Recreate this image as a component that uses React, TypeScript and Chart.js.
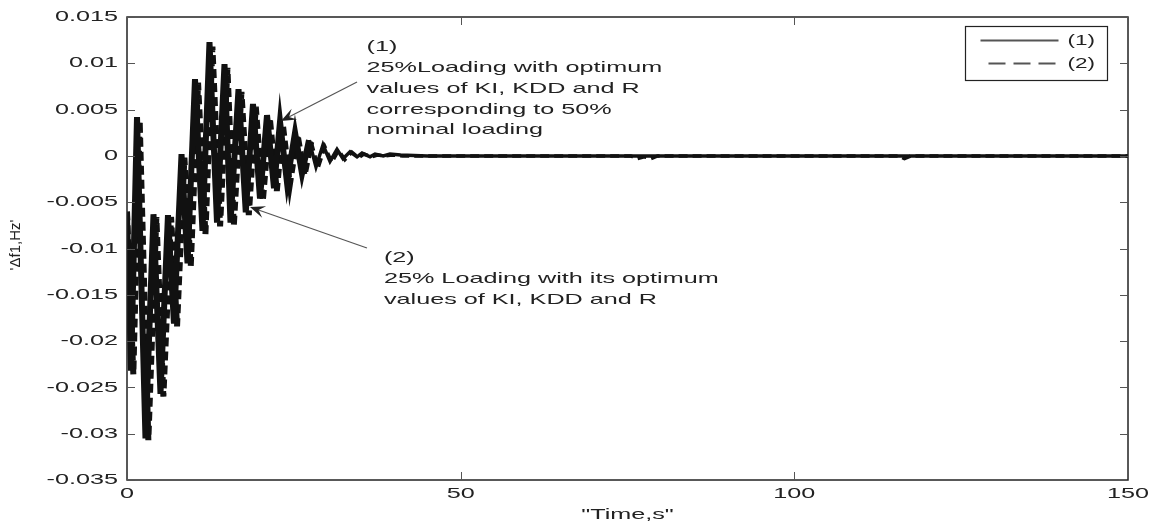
import React, { useEffect, useRef } from 'react';
import { Chart, registerables } from 'chart.js';

Chart.register(...registerables);

// ---- data ----
const time1 = [0, 0.6, 1.5, 2.77, 3.97, 5.02, 6.14, 7.04, 8.17, 9.07, 10.19, 11.31, 12.36, 13.49, 14.61, 15.51, 16.71, 17.8, 18.88, 19.93, 20.98, 22.03, 22.93, 23.98, 25.18, 26.22, 27.27, 28.32, 29.37, 30.42, 31.47, 32.37, 33.42, 34.47, 35.22, 36.42, 37.17, 38.4, 39.4, 41, 45, 150];
const values1 = [-0.0064, -0.0232, 0.0042, -0.0305, -0.0063, -0.0257, -0.0064, -0.0181, 0.0002, -0.0116, 0.0083, -0.0081, 0.0123, -0.0072, 0.0099, -0.0072, 0.0072, -0.0061, 0.0056, -0.0046, 0.0044, -0.0035, 0.0037, -0.0029, 0.0025, -0.0019, 0.0017, -0.0012, 0.0012, -0.0006, 0.0007, -0.0003, 0.00045, -0.0001, 0.0003, -0.0001, 0.0002, 0, 0.0002, 0.0001, 0, 0];

const time2 = [0, 0.95, 1.9, 3.2, 4.4, 5.45, 6.6, 7.5, 8.6, 9.55, 10.65, 11.75, 12.8, 13.95, 15.05, 16.0, 17.15, 18.25, 19.3, 20.35, 21.4, 22.45, 23.35, 24.4, 25.55, 26.6, 27.6, 28.65, 29.65, 30.7, 31.7, 32.65, 33.7, 34.7, 35.5, 36.7, 37.5, 38.7, 39.7, 41.3, 45, 75.5, 76.5, 77.5, 78.5, 79.5, 115.5, 116.5, 117.5, 150];
const values2 = [-0.006, -0.0236, 0.0038, -0.0307, -0.0066, -0.026, -0.0066, -0.0184, -0.0002, -0.012, 0.0079, -0.0085, 0.0118, -0.0076, 0.0095, -0.0076, 0.0069, -0.0064, 0.0053, -0.0049, 0.0041, -0.0038, 0.0034, -0.0031, 0.0023, -0.0021, 0.0015, -0.0013, 0.001, -0.0007, 0.0006, -0.0004, 0.0004, -0.0002, 0.0002, -0.0001, 0.0001, 0, 0.0001, 0, 0, 0, -0.0003, -0.0001, -0.0003, 0, 0, -0.0003, 0, 0];

const seriesLabels = ['(1)', '(2)'];

const xTickValues = [0, 50, 100, 150];
const xTickLabels = ['0', '50', '100', '150'];
const yTickValues = [-0.035, -0.03, -0.025, -0.02, -0.015, -0.01, -0.005, 0, 0.005, 0.01, 0.015];
const yTickLabels = ['-0.035', '-0.03', '-0.025', '-0.02', '-0.015', '-0.01', '-0.005', '0', '0.005', '0.01', '0.015'];

const xTitle = '"Time,s"';
const yTitle = "'\u0394f1,Hz'";

const note1Lines = ['(1)', '25%Loading with optimum', 'values of KI, KDD and R', 'corresponding to 50%', 'nominal loading'];
const note1Anchor = [35.9, 0.01176]; // time, value of first line (left edge)
const arrow1 = [34.47, 0.00798, 23.08, 0.00377]; // tail t,v -> tip t,v

const note2Lines = ['(2)', '25% Loading with its optimum', 'values of KI, KDD and R'];
const note2Anchor = [38.5, -0.01103];
const arrow2 = [35.96, -0.00995, 18.43, -0.00552];

// ---- drawing helpers ----
const FONT = '15px "Liberation Sans", Arial, sans-serif';
const SX = 1.68;
const TEXT_COLOR = '#222';

function stretchedText(ctx: CanvasRenderingContext2D, text: string, x: number, y: number, align: 'left' | 'right' | 'center', font = FONT, sx = SX) {
  ctx.save();
  ctx.font = font;
  ctx.fillStyle = TEXT_COLOR;
  ctx.textBaseline = 'middle';
  ctx.textAlign = 'left';
  const w = ctx.measureText(text).width * sx;
  let left = x;
  if (align === 'right') left = x - w;
  else if (align === 'center') left = x - w / 2;
  ctx.translate(left, y);
  ctx.scale(sx, 1);
  ctx.fillText(text, 0, 0);
  ctx.restore();
}

function drawArrow(ctx: CanvasRenderingContext2D, x0: number, y0: number, x1: number, y1: number) {
  const dx = x1 - x0;
  const dy = y1 - y0;
  const len = Math.hypot(dx, dy);
  const ux = dx / len;
  const uy = dy / len;
  const px = -uy;
  const py = ux;
  const head = 15;
  const half = 6;
  ctx.save();
  ctx.strokeStyle = '#555';
  ctx.lineWidth = 1.2;
  ctx.beginPath();
  ctx.moveTo(x0, y0);
  ctx.lineTo(x1 - ux * 6, y1 - uy * 6);
  ctx.stroke();
  ctx.fillStyle = '#222';
  ctx.beginPath();
  ctx.moveTo(x1, y1);
  ctx.lineTo(x1 - ux * head + px * half, y1 - uy * head + py * half);
  ctx.lineTo(x1 - ux * head * 0.6, y1 - uy * head * 0.6);
  ctx.lineTo(x1 - ux * head - px * half, y1 - uy * head - py * half);
  ctx.closePath();
  ctx.fill();
  ctx.restore();
}

const matlabAxes = {
  id: 'matlabAxes',
  afterDatasetsDraw(chart: any) {
    const { ctx, chartArea: a, scales } = chart;
    const xs = scales.x;
    const ys = scales.y;
    ctx.save();

    // frame
    ctx.strokeStyle = '#222';
    ctx.lineWidth = 1.5;
    ctx.strokeRect(Math.round(a.left), Math.round(a.top), Math.round(a.right - a.left), Math.round(a.bottom - a.top));

    // inward ticks
    ctx.strokeStyle = '#555';
    ctx.lineWidth = 1;
    const tl = 8;
    ys.ticks.forEach((t: any) => {
      const p = Math.round(ys.getPixelForValue(t.value)) + 0.5;
      ctx.beginPath();
      ctx.moveTo(a.left, p);
      ctx.lineTo(a.left + tl, p);
      ctx.moveTo(a.right, p);
      ctx.lineTo(a.right - tl, p);
      ctx.stroke();
    });
    xs.ticks.forEach((t: any) => {
      const p = Math.round(xs.getPixelForValue(t.value)) + 0.5;
      ctx.beginPath();
      ctx.moveTo(p, a.bottom);
      ctx.lineTo(p, a.bottom - tl);
      ctx.moveTo(p, a.top);
      ctx.lineTo(p, a.top + tl);
      ctx.stroke();
    });

    // tick labels
    ys.ticks.forEach((t: any, i: number) => {
      const p = ys.getPixelForValue(t.value);
      stretchedText(ctx, yTickLabels[i], a.left - 9, p, 'right');
    });
    xs.ticks.forEach((t: any, i: number) => {
      const p = xs.getPixelForValue(t.value);
      stretchedText(ctx, xTickLabels[i], p, a.bottom + 14, 'center');
    });

    // axis titles
    stretchedText(ctx, xTitle, (a.left + a.right) / 2, a.bottom + 35, 'center');
    ctx.save();
    ctx.translate(16, 245);
    ctx.rotate(-Math.PI / 2);
    ctx.font = '15px "Liberation Sans", Arial, sans-serif';
    ctx.fillStyle = TEXT_COLOR;
    ctx.textAlign = 'center';
    ctx.textBaseline = 'middle';
    ctx.fillText(yTitle, 0, 0);
    ctx.restore();

    // annotations
    const lineGap = 20.8;
    const n1x = xs.getPixelForValue(note1Anchor[0]);
    const n1y = ys.getPixelForValue(note1Anchor[1]);
    note1Lines.forEach((s, i) => stretchedText(ctx, s, n1x, n1y + i * lineGap, 'left'));
    const n2x = xs.getPixelForValue(note2Anchor[0]);
    const n2y = ys.getPixelForValue(note2Anchor[1]);
    note2Lines.forEach((s, i) => stretchedText(ctx, s, n2x, n2y + i * lineGap, 'left'));

    drawArrow(ctx, xs.getPixelForValue(arrow1[0]), ys.getPixelForValue(arrow1[1]), xs.getPixelForValue(arrow1[2]), ys.getPixelForValue(arrow1[3]));
    drawArrow(ctx, xs.getPixelForValue(arrow2[0]), ys.getPixelForValue(arrow2[1]), xs.getPixelForValue(arrow2[2]), ys.getPixelForValue(arrow2[3]));

    // legend box
    const bx = Math.round(a.right - 163) + 0.5;
    const by = Math.round(a.top + 9) + 0.5;
    const bw = 142;
    const bh = 54;
    ctx.fillStyle = '#fff';
    ctx.fillRect(bx, by, bw, bh);
    ctx.strokeStyle = '#222';
    ctx.lineWidth = 1.2;
    ctx.strokeRect(bx, by, bw, bh);
    chart.data.datasets.forEach((ds: any, i: number) => {
      const ly = by + 14 + i * 23;
      ctx.save();
      ctx.strokeStyle = '#555';
      ctx.lineWidth = 2;
      ctx.setLineDash(i === 0 ? [] : [17, 8]);
      ctx.beginPath();
      ctx.moveTo(bx + (i === 0 ? 15 : 23), ly);
      ctx.lineTo(bx + 93, ly);
      ctx.stroke();
      ctx.restore();
      stretchedText(ctx, ds.label, bx + 102, ly, 'left', FONT, 1.5);
    });

    ctx.restore();
  },
};

const thickUntil = 27;

export default function App() {
  const canvasRef = useRef<HTMLCanvasElement | null>(null);

  useEffect(() => {
    if (!canvasRef.current) return;
    const segWidth = (c: any) => (c.p0.parsed.x < thickUntil ? 6 : undefined);
    const chart = new Chart(canvasRef.current, {
      type: 'line',
      data: {
        datasets: [
          {
            label: seriesLabels[0],
            data: time1.map((t, i) => ({ x: t, y: values1[i] })),
            borderColor: '#111',
            borderWidth: 3.5,
            segment: { borderWidth: segWidth },
            pointRadius: 0,
            tension: 0,
            fill: false,
          },
          {
            label: seriesLabels[1],
            data: time2.map((t, i) => ({ x: t, y: values2[i] })),
            borderColor: '#111',
            borderWidth: 3.5,
            borderDash: [9, 5],
            segment: { borderWidth: segWidth },
            pointRadius: 0,
            tension: 0,
            fill: false,
          },
        ],
      },
      options: {
        animation: false,
        responsive: false,
        maintainAspectRatio: false,
        devicePixelRatio: 1,
        layout: { padding: { left: 127, right: 26, top: 17, bottom: 47 } },
        plugins: { legend: { display: false }, tooltip: { enabled: false } },
        scales: {
          x: {
            type: 'linear',
            min: 0,
            max: 150,
            afterBuildTicks: (scale: any) => {
              scale.ticks = xTickValues.map((v) => ({ value: v }));
            },
            grid: { display: false, drawTicks: false, tickLength: 0 },
            border: { display: false },
            ticks: { display: false, padding: 0 },
            title: { display: false },
          },
          y: {
            type: 'linear',
            min: -0.035,
            max: 0.015,
            afterBuildTicks: (scale: any) => {
              scale.ticks = yTickValues.map((v) => ({ value: v }));
            },
            grid: { display: false, drawTicks: false, tickLength: 0 },
            border: { display: false },
            ticks: { display: false, padding: 0 },
            title: { display: false },
          },
        },
      },
      plugins: [matlabAxes],
    });
    return () => chart.destroy();
  }, []);

  return (
    <div style={{ position: 'fixed', left: 0, top: 0, width: 1154, height: 527, background: '#fff' }}>
      <canvas ref={canvasRef} width={1154} height={527} style={{ display: 'block' }} />
    </div>
  );
}
